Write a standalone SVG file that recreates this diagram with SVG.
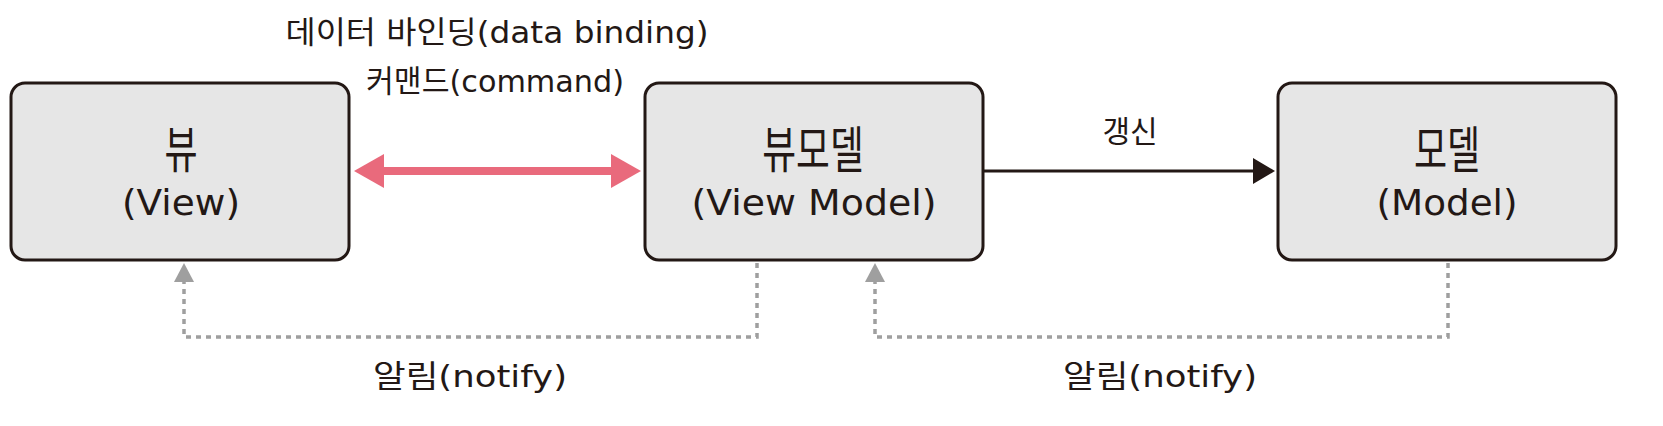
<svg xmlns="http://www.w3.org/2000/svg" width="1663" height="426" viewBox="0 0 1663 426">
<style>
.box{fill:#e6e6e6;stroke:#231815;stroke-width:3}
.ko{font-family:"Noto Sans CJK KR","DejaVu Sans",sans-serif;fill:#231815}
.en{font-family:"DejaVu Sans","Noto Sans CJK KR",sans-serif;fill:#231815}
.lbl{font-family:"DejaVu Sans","Noto Sans CJK KR",sans-serif;fill:#231815;font-size:31px}
.dot{fill:none;stroke:#9f9f9f;stroke-width:3.5;stroke-dasharray:5 5}
</style>
<rect width="1663" height="426" fill="#ffffff"/>
<g id="connectors">
<line x1="380" y1="171" x2="614" y2="171" stroke="#e96a7c" stroke-width="8"/>
<polygon points="354,171 384,154 384,188" fill="#e96a7c"/>
<polygon points="641,171 611,154 611,188" fill="#e96a7c"/>
<line x1="983" y1="171" x2="1256" y2="171" stroke="#231815" stroke-width="3"/>
<polygon points="1275,171 1253,158 1253,184" fill="#231815"/>
<polyline class="dot" points="757,263 757,337 184,337 184,282"/>
<polygon points="184,263 174,282 194,282" fill="#9f9f9f"/>
<polyline class="dot" points="1448,263 1448,337 875,337 875,282"/>
<polygon points="875,263 865,282 885,282" fill="#9f9f9f"/>
<text class="lbl" x="497" y="43" text-anchor="middle" textLength="423" lengthAdjust="spacingAndGlyphs">데이터 바인딩(data binding)</text>
<text class="lbl" x="495" y="92" text-anchor="middle" textLength="258" lengthAdjust="spacingAndGlyphs">커맨드(command)</text>
<text class="ko" x="1130" y="142" text-anchor="middle" font-size="30">갱신</text>
<text class="lbl" x="470" y="387" text-anchor="middle" textLength="194" lengthAdjust="spacingAndGlyphs">알림(notify)</text>
<text class="lbl" x="1160" y="387" text-anchor="middle" textLength="194" lengthAdjust="spacingAndGlyphs">알림(notify)</text>
</g>
<g id="view">
<rect class="box" x="11" y="83" width="338" height="177" rx="14"/>
<text class="ko" transform="translate(181,168) scale(0.9,1.25)" text-anchor="middle" font-size="40">뷰</text>
<text class="en" x="181" y="215" text-anchor="middle" font-size="36" textLength="118" lengthAdjust="spacingAndGlyphs">(View)</text>
</g>
<g id="viewmodel">
<rect class="box" x="645" y="83" width="338" height="177" rx="14"/>
<text class="ko" transform="translate(813,168) scale(0.92,1.25)" text-anchor="middle" font-size="40">뷰모델</text>
<text class="en" x="814" y="215" text-anchor="middle" font-size="36" textLength="245" lengthAdjust="spacingAndGlyphs">(View Model)</text>
</g>
<g id="model">
<rect class="box" x="1278" y="83" width="338" height="177" rx="14"/>
<text class="ko" transform="translate(1447,168) scale(0.9,1.25)" text-anchor="middle" font-size="40">모델</text>
<text class="en" x="1447" y="215" text-anchor="middle" font-size="36" textLength="141" lengthAdjust="spacingAndGlyphs">(Model)</text>
</g>
</svg>
